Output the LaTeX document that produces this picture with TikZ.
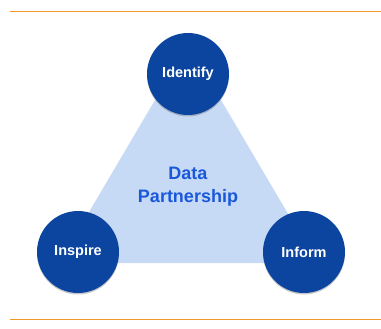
\documentclass[tikz,border=0pt]{standalone}
\usepackage{fontspec}
\setmainfont{Liberation Sans}
\usetikzlibrary{shadows}
\definecolor{circblue}{RGB}{12,69,160}
\definecolor{trifill}{RGB}{198,217,245}
\definecolor{txtblue}{RGB}{26,88,218}
\definecolor{rule}{RGB}{240,152,40}
\begin{document}
\begin{tikzpicture}[x=1pt,y=-1pt,
  phase/.style={circle,fill=circblue,minimum size=82pt,inner sep=0pt,
    text=white,font=\bfseries\fontsize{14.5}{16}\selectfont,
    drop shadow={opacity=0.35,shadow xshift=0pt,shadow yshift=-1.5pt,fill=black!60}},
  rulestyle/.style={draw=rule,line width=0.9pt}]
\useasboundingbox (0,0) rectangle (381,329);
\coordinate (ruleAL) at (10,11);
\coordinate (ruleAR) at (381,11);
\coordinate (ruleBL) at (10,319);
\coordinate (ruleBR) at (381,319);
\draw[rulestyle] (ruleAL) -- (ruleAR);
\draw[rulestyle] (ruleBL) -- (ruleBR);
\coordinate (tA) at (188,44);
\coordinate (tB) at (59,263);
\coordinate (tC) at (317,263);
\fill[trifill] (tA) -- (tB) -- (tC) -- cycle;
\node[text=txtblue,font=\bfseries\fontsize{18}{23}\selectfont,align=center] (center) at (188,187) {Data\\Partnership};
\node[phase] (identify) at (188,74) {Identify};
\node[phase] (inspire) at (78,252) {Inspire};
\node[phase] (inform) at (304,252) {Inform};
\end{tikzpicture}
\end{document}
